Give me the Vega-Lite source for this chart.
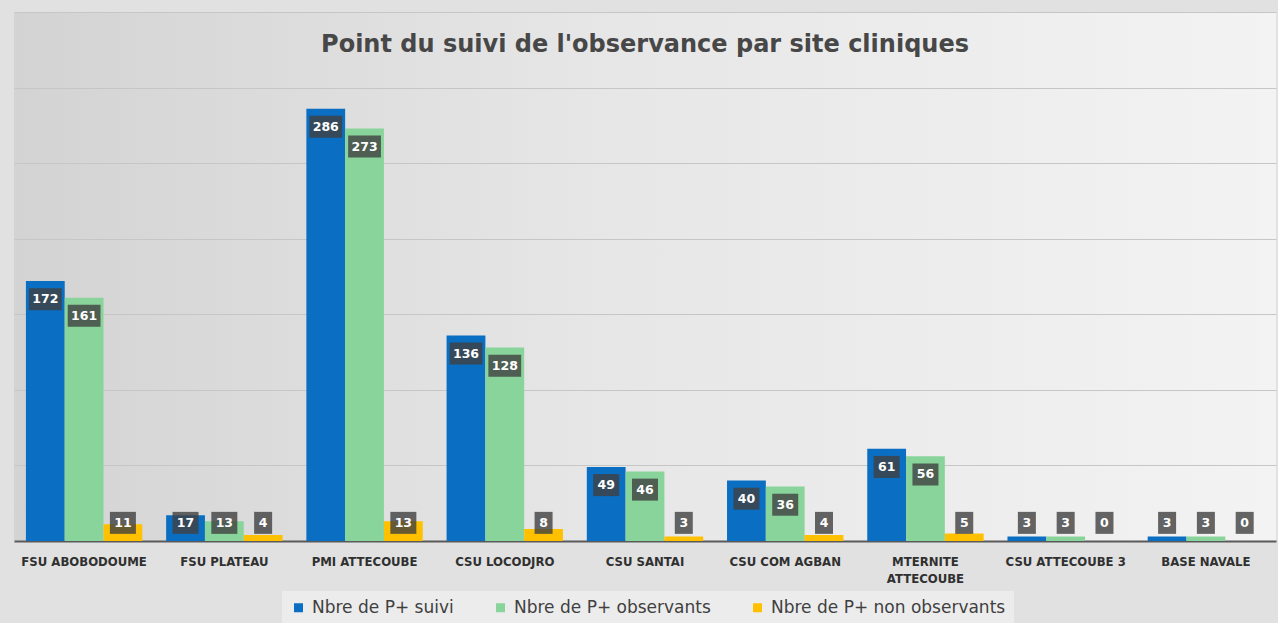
{
  "$schema": "https://vega.github.io/schema/vega-lite/v6.json",
  "autosize": {"type": "none"},
  "width": 1262,
  "height": 529,
  "padding": {"left": 14, "top": 12, "right": 2, "bottom": 82},
  "background": "#e1e1e1",
  "title": {
    "text": "Point du suivi de l'observance par site cliniques",
    "font": "DejaVu Sans",
    "fontSize": 24,
    "fontWeight": "bold",
    "color": "#474747",
    "anchor": "middle",
    "baseline": "middle",
    "offset": -57
  },
  "config": {
    "view": {
      "stroke": null,
      "fill": {
        "gradient": "linear",
        "x1": 0, "y1": 0, "x2": 1, "y2": 0,
        "stops": [
          {"offset": 0, "color": "#d3d3d3"},
          {"offset": 0.45, "color": "#e6e6e6"},
          {"offset": 1, "color": "#f3f3f3"}
        ]
      }
    },
    "font": "DejaVu Sans"
  },
  "data": {
    "values": [
      {"site": "FSU ABOBODOUME", "serie": "Nbre de P+ suivi", "value": 172},
      {"site": "FSU ABOBODOUME", "serie": "Nbre de P+ observants", "value": 161},
      {"site": "FSU ABOBODOUME", "serie": "Nbre de P+ non observants", "value": 11},
      {"site": "FSU PLATEAU", "serie": "Nbre de P+ suivi", "value": 17},
      {"site": "FSU PLATEAU", "serie": "Nbre de P+ observants", "value": 13},
      {"site": "FSU PLATEAU", "serie": "Nbre de P+ non observants", "value": 4},
      {"site": "PMI ATTECOUBE", "serie": "Nbre de P+ suivi", "value": 286},
      {"site": "PMI ATTECOUBE", "serie": "Nbre de P+ observants", "value": 273},
      {"site": "PMI ATTECOUBE", "serie": "Nbre de P+ non observants", "value": 13},
      {"site": "CSU LOCODJRO", "serie": "Nbre de P+ suivi", "value": 136},
      {"site": "CSU LOCODJRO", "serie": "Nbre de P+ observants", "value": 128},
      {"site": "CSU LOCODJRO", "serie": "Nbre de P+ non observants", "value": 8},
      {"site": "CSU SANTAI", "serie": "Nbre de P+ suivi", "value": 49},
      {"site": "CSU SANTAI", "serie": "Nbre de P+ observants", "value": 46},
      {"site": "CSU SANTAI", "serie": "Nbre de P+ non observants", "value": 3},
      {"site": "CSU COM AGBAN", "serie": "Nbre de P+ suivi", "value": 40},
      {"site": "CSU COM AGBAN", "serie": "Nbre de P+ observants", "value": 36},
      {"site": "CSU COM AGBAN", "serie": "Nbre de P+ non observants", "value": 4},
      {"site": "MTERNITE ATTECOUBE", "serie": "Nbre de P+ suivi", "value": 61},
      {"site": "MTERNITE ATTECOUBE", "serie": "Nbre de P+ observants", "value": 56},
      {"site": "MTERNITE ATTECOUBE", "serie": "Nbre de P+ non observants", "value": 5},
      {"site": "CSU ATTECOUBE 3", "serie": "Nbre de P+ suivi", "value": 3},
      {"site": "CSU ATTECOUBE 3", "serie": "Nbre de P+ observants", "value": 3},
      {"site": "CSU ATTECOUBE 3", "serie": "Nbre de P+ non observants", "value": 0},
      {"site": "BASE NAVALE", "serie": "Nbre de P+ suivi", "value": 3},
      {"site": "BASE NAVALE", "serie": "Nbre de P+ observants", "value": 3},
      {"site": "BASE NAVALE", "serie": "Nbre de P+ non observants", "value": 0}
    ]
  },
  "transform": [
    {"calculate": "max(datum.value - 12, 12)", "as": "labelPos"},
    {"calculate": "'' + length('' + datum.value)", "as": "nd"}
  ],
  "encoding": {
    "x": {
      "field": "site",
      "type": "nominal",
      "sort": null,
      "scale": {"paddingInner": 0.17, "paddingOuter": 0.085},
      "axis": {
        "title": null,
        "labelAngle": 0,
        "labelFont": "DejaVu Sans Condensed",
        "labelFontSize": 13,
        "labelFontWeight": "bold",
        "labelColor": "#303030",
        "labelPadding": 14,
        "labelLineHeight": 17,
        "labelLimit": 0,
        "labelExpr": "datum.label == 'MTERNITE ATTECOUBE' ? ['MTERNITE', 'ATTECOUBE'] : datum.label",
        "ticks": false,
        "domainColor": "#5a5a5a",
        "domainWidth": 2,
        "grid": false
      }
    },
    "xOffset": {
      "field": "serie",
      "type": "nominal",
      "scale": {"domain": ["Nbre de P+ suivi", "Nbre de P+ observants", "Nbre de P+ non observants"]}
    }
  },
  "layer": [
    {
      "mark": {"type": "bar"},
      "encoding": {
        "y": {
          "field": "value",
          "type": "quantitative",
          "scale": {"domain": [0, 350], "nice": false},
          "axis": {
            "title": null,
            "labels": false,
            "ticks": false,
            "domain": false,
            "values": [50, 100, 150, 200, 250, 300, 350],
            "gridColor": "#c6c6c6",
            "gridWidth": 1
          }
        },
        "color": {
          "field": "serie",
          "type": "nominal",
          "scale": {
            "domain": ["Nbre de P+ suivi", "Nbre de P+ observants", "Nbre de P+ non observants"],
            "range": ["#0a6ec2", "#89d49a", "#ffc000"]
          },
          "legend": {
            "title": null,
            "orient": "none",
            "direction": "horizontal",
            "legendX": 268,
            "legendY": 579,
            "fillColor": "#ececec",
            "padding": 8,
            "symbolType": "square",
            "symbolSize": 81,
            "symbolStrokeWidth": 0,
            "labelFont": "DejaVu Sans",
            "labelFontSize": 17,
            "labelColor": "#404040",
            "labelLimit": 0,
            "columnPadding": 38,
            "labelOffset": 5
          }
        }
      }
    },
    {
      "mark": {"type": "point", "filled": true, "opacity": 1, "strokeWidth": 0},
      "encoding": {
        "y": {"field": "labelPos", "type": "quantitative"},
        "shape": {
          "field": "nd",
          "type": "nominal",
          "scale": {
            "domain": ["1", "2", "3"],
            "range": [
              "M-0.45,-0.55H0.45V0.55H-0.45Z",
              "M-0.65,-0.55H0.65V0.55H-0.65Z",
              "M-0.82,-0.55H0.82V0.55H-0.82Z"
            ]
          },
          "legend": null
        },
        "size": {"value": 1600},
        "color": {"value": "rgba(64,64,64,0.8)"}
      }
    },
    {
      "mark": {"type": "text", "font": "DejaVu Sans", "fontSize": 12.5, "fontWeight": "bold", "color": "white", "baseline": "middle", "align": "center"},
      "encoding": {
        "y": {"field": "labelPos", "type": "quantitative"},
        "text": {"field": "value", "type": "quantitative"}
      }
    }
  ]
}
